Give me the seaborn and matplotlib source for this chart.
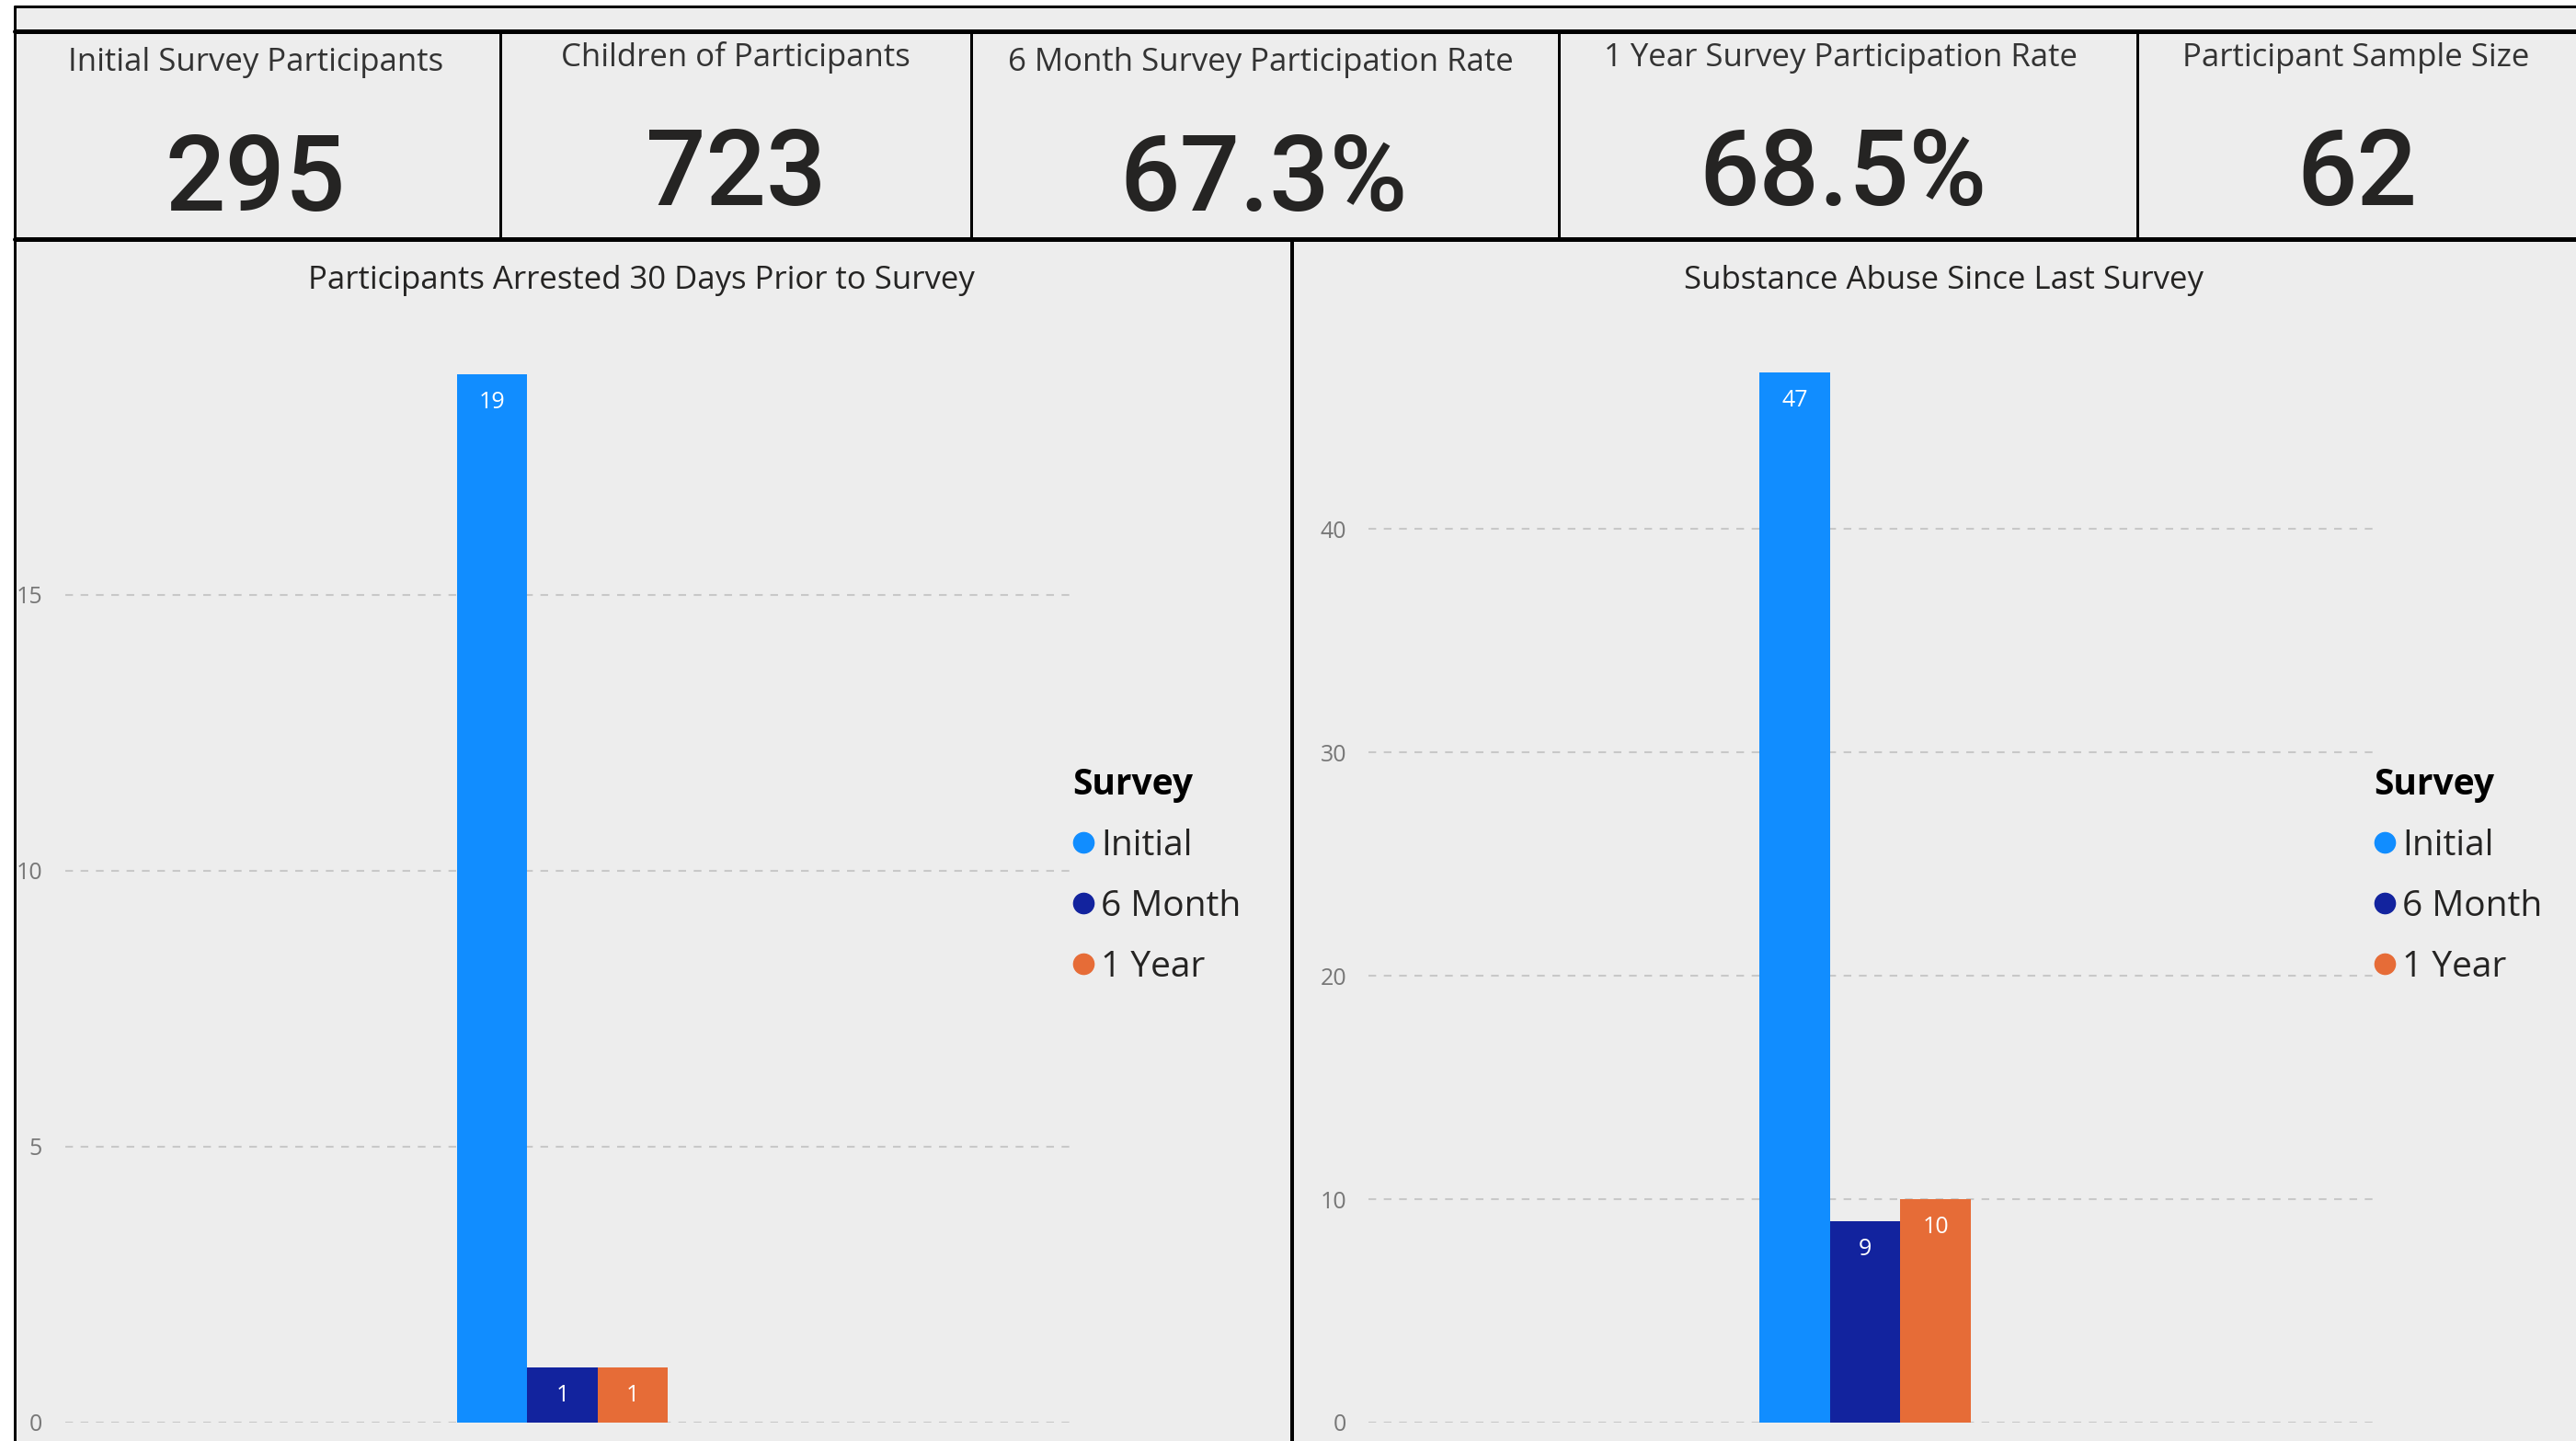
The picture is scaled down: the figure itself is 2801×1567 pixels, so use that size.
import pandas as pd
import matplotlib.pyplot as plt
import seaborn as sns
from matplotlib.patches import Rectangle
from matplotlib.lines import Line2D

W, H = 2801, 1567

# KPI cards
kpi_titles = ['Initial Survey Participants', 'Children of Participants',
              '6 Month Survey Participation Rate', '1 Year Survey Participation Rate',
              'Participant Sample Size']
kpi_values = ['295', '723', '67.3%', '68.5%', '62']

# bar charts
surveys = ['Initial', '6 Month', '1 Year']
arrested = [19, 1, 1]
substance = [47, 9, 10]
colors = {'Initial': '#118DFF', '6 Month': '#12239E', '1 Year': '#E66C37'}

bg = '#EDEDED'
txt = '#252423'


def fx(x):
    return x / W


def fy(y):
    return 1 - y / H


def hline(fig, y, x0, x1, lw):
    fig.add_artist(Line2D([fx(x0), fx(x1)], [fy(y), fy(y)], color='black',
                          lw=lw * 0.72, transform=fig.transFigure))


def vline(fig, x, y0, y1, lw):
    fig.add_artist(Line2D([fx(x), fx(x)], [fy(y0), fy(y1)], color='black',
                          lw=lw * 0.72, transform=fig.transFigure))


sns.set_theme(style='white')
plt.rcParams['font.family'] = ['Open Sans', 'DejaVu Sans']

fig = plt.figure(figsize=(W / 100, H / 100), dpi=100, facecolor='white')
fig.add_artist(Rectangle((fx(16), 0), 1 - fx(16), fy(7), transform=fig.transFigure,
                         facecolor=bg, edgecolor='none', zorder=0))

# frame
hline(fig, 7, 16, W, 3)
vline(fig, 16, 7, H, 3)
hline(fig, 34, 16, W, 5)
hline(fig, 260, 16, W, 5)
for x in [544, 1056, 1695, 2324]:
    vline(fig, x, 34, 260, 3)
vline(fig, 1405, 260, H, 4)

# KPI texts
title_pos = [(278, 68), (800, 63), (1371, 68), (2002, 63), (2562, 63)]
value_pos = [(278, 197), (800, 191), (1374, 197), (2004, 191), (2563, 191)]
for t, v, tp, vp in zip(kpi_titles, kpi_values, title_pos, value_pos):
    fig.text(fx(tp[0]), fy(tp[1]), t, ha='center', va='center', fontsize=25, color='#333333')
    fig.text(fx(vp[0]), fy(vp[1]), v, ha='center', va='center', fontsize=83,
             color=txt, family=['Roboto', 'DejaVu Sans'], weight='medium')

df_arr = pd.DataFrame({'Survey': surveys, 'Count': arrested, 'Metric': 'Arrested'})
df_sub = pd.DataFrame({'Survey': surveys, 'Count': substance, 'Metric': 'Substance'})

charts = [
    dict(df=df_arr, box=(71, 407, 1166, 1547), ylim=19, ticks=[0, 5, 10, 15],
         xlim=(-1.888, 1.937), title='Participants Arrested 30 Days Prior to Survey',
         title_x=697, legend_x=1166, pad=18),
    dict(df=df_sub, box=(1488, 405, 2581, 1547), ylim=47, ticks=[0, 10, 20, 30, 40],
         xlim=(-1.878, 1.923), title='Substance Abuse Since Last Survey',
         title_x=2113, legend_x=2581, pad=17),
]

for c in charts:
    x0, y0, x1, y1 = c['box']
    ax = fig.add_axes([fx(x0), fy(y1), (x1 - x0) / W, (y1 - y0) / H])
    ax.patch.set_visible(False)
    sns.barplot(data=c['df'], x='Metric', y='Count', hue='Survey', hue_order=surveys,
                palette=colors, saturation=1, width=0.8, legend=False, linewidth=0, ax=ax)
    ax.set_xlim(*c['xlim'])
    ax.set_ylim(0, c['ylim'])
    ax.set_yticks(c['ticks'])
    ax.set_xticks([])
    ax.set_xlabel('')
    ax.set_ylabel('')
    sns.despine(ax=ax, left=True, bottom=True)
    ax.set_axisbelow(True)
    ax.yaxis.grid(True, color='#C8C8C8', linestyle=(0, (4, 4)), linewidth=1.5)
    ax.tick_params(axis='y', length=0, pad=c['pad'], labelsize=18, labelcolor='#777777')
    for cont in ax.containers:
        ax.bar_label(cont, padding=-31, color='white', fontsize=18)

    fig.text(fx(c['title_x']), fy(305), c['title'], ha='center', va='center',
             fontsize=25, color=txt)

    handles = [Line2D([], [], marker='o', linestyle='', markersize=16,
                      markerfacecolor=colors[s], markeredgecolor=colors[s]) for s in surveys]
    leg = ax.legend(handles, surveys, title='Survey', loc='upper left',
                    bbox_to_anchor=(fx(c['legend_x']), fy(834)),
                    bbox_transform=fig.transFigure, frameon=False, fontsize=28,
                    title_fontproperties={'weight': 'bold', 'size': 28},
                    alignment='left', handlelength=0.6, handletextpad=0.2,
                    labelspacing=0.72, borderpad=0, borderaxespad=0)
    for t in leg.get_texts():
        t.set_color(txt)
    leg.get_title().set_color('black')

fig.savefig('out.png', dpi=100, facecolor='white')
